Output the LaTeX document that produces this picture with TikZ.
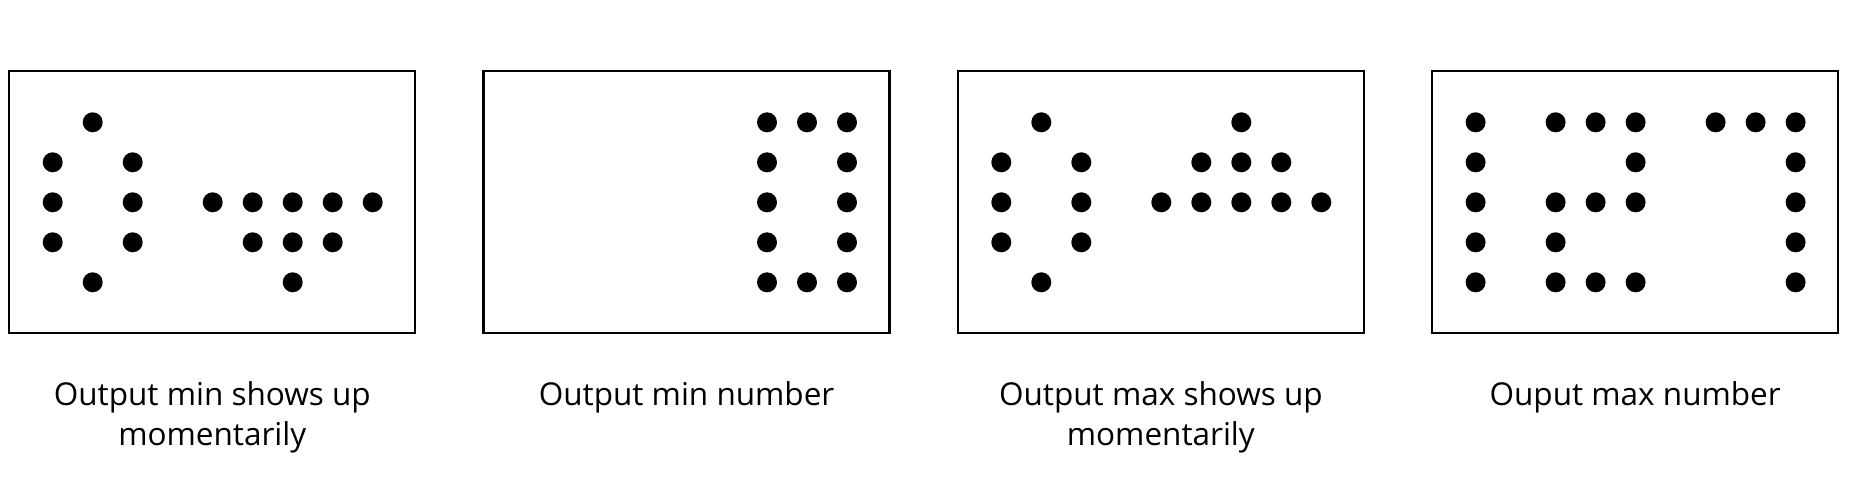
\documentclass[tikz,border=0pt]{standalone}
\usepackage{fontspec}
\setmainfont{Open Sans}
\begin{document}
\begin{tikzpicture}[x=1pt,y=-1pt,
  panel/.style={draw=black,line width=2.3pt,minimum width=406pt,minimum height=261.9pt,inner sep=0pt,outer sep=0pt},
  lbl/.style={font=\fontsize{31.5}{40}\selectfont,align=center,anchor=base,inner sep=0pt}]
\fill[white] (0,0) rectangle (1856,501);
\useasboundingbox (0,0) rectangle (1856,501);
\newcommand{\dotset}[2]{%
  \foreach \k/\j in {#2} {%
    \fill[black] ({9.2+474.3*#1+43.5+40*\k},{122.3+40*\j}) circle[radius=10pt];}}
\foreach \i in {0,1,2,3} {
  \node[panel] (box\i) at ({212.25+474.3*\i},202.15) {};
}
\dotset{0}{1/0, 0/1,2/1, 0/2,2/2,4/2,5/2,6/2,7/2,8/2, 0/3,2/3,5/3,6/3,7/3, 1/4,6/4}
\dotset{1}{6/0,7/0,8/0, 6/1,8/1, 6/2,8/2, 6/3,8/3, 6/4,7/4,8/4}
\dotset{2}{1/0,6/0, 0/1,2/1,5/1,6/1,7/1, 0/2,2/2,4/2,5/2,6/2,7/2,8/2, 0/3,2/3, 1/4}
\dotset{3}{0/0,2/0,3/0,4/0,6/0,7/0,8/0, 0/1,4/1,8/1, 0/2,2/2,3/2,4/2,8/2, 0/3,2/3,8/3, 0/4,2/4,3/4,4/4,8/4}
% two-line labels: base anchor sits on the last line
\node[lbl] (lbl0) at (212.25,445.3) {Output min shows up\\momentarily};
\node[lbl] (lbl1) at (686.55,405.3) {Output min number};
\node[lbl] (lbl2) at (1160.85,445.3) {Output max shows up\\momentarily};
\node[lbl] (lbl3) at (1635.15,405.3) {Ouput max number};
\end{tikzpicture}
\end{document}
